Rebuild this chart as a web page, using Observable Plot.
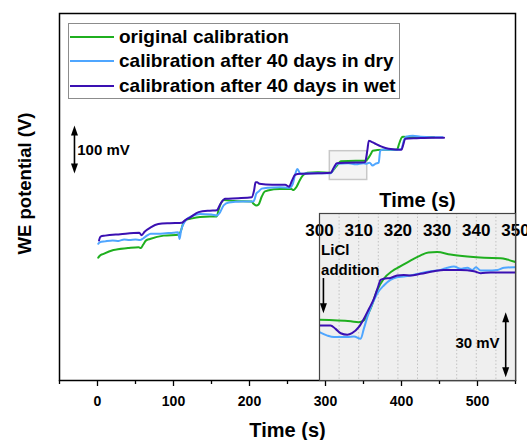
<!DOCTYPE html>
<html>
<head>
<meta charset="utf-8">
<script src="https://cdn.jsdelivr.net/npm/d3@7"></script>
<script src="https://cdn.jsdelivr.net/npm/@observablehq/plot@0.6"></script>
<style>
  html, body { margin: 0; padding: 0; background: white; }
  #wrap { position: relative; width: 527px; height: 440px; overflow: hidden; font-family: "Liberation Sans", Arial, sans-serif; font-weight: bold; }
  #wrap svg { position: absolute; }
  .legend { position: absolute; left: 68px; top: 23px; width: 330px; height: 74px; border: 1px solid #8c8c8c; background: white; }
  .row { position: absolute; left: 0; height: 24px; line-height: 24px; font-size: 19px; white-space: nowrap; color: #000; }
  .sw { position: absolute; left: 1px; top: 11px; width: 44px; height: 2px; }
  .lab { position: absolute; left: 50px; top: 0; }
</style>
</head>
<body>
<div id="wrap"></div>
<script>
// ---------- data ----------
const seriesNames = ["original calibration", "calibration after 40 days in dry", "calibration after 40 days in wet"];
const seriesColors = ["#1faf1f", "#4fa6ff", "#3a10b2"];

// main panel: time (s) and WE potential (V, arbitrary offset)
const tOriginal = [1, 3, 8, 21, 40, 54, 57, 60, 64, 69, 87, 107, 110, 113, 117, 122, 135, 148, 157, 159, 163, 166, 180, 203, 205, 209, 212, 216, 220, 224, 240, 255, 258, 262, 266, 270, 276, 290, 307, 311, 316, 320, 340, 353, 357, 360, 362, 375, 394, 397, 400, 402, 415, 430, 443];
const vOriginal = [0.256, 0.260, 0.264, 0.272, 0.276, 0.278, 0.276, 0.283, 0.292, 0.295, 0.302, 0.304, 0.313, 0.329, 0.335, 0.337, 0.341, 0.342, 0.342, 0.354, 0.371, 0.376, 0.374, 0.373, 0.369, 0.365, 0.367, 0.383, 0.394, 0.396, 0.399, 0.399, 0.397, 0.404, 0.417, 0.427, 0.433, 0.434, 0.433, 0.440, 0.450, 0.457, 0.458, 0.458, 0.465, 0.473, 0.479, 0.481, 0.481, 0.494, 0.506, 0.508, 0.507, 0.507, 0.507];

const tDry = [1, 3, 10, 20, 28, 35, 42, 50, 56, 60, 65, 70, 80, 90, 100, 106, 108, 110, 114, 118, 125, 135, 150, 157, 161, 166, 173, 190, 205, 207, 209, 212, 216, 225, 240, 253, 257, 260, 263, 267, 280, 307, 311, 316, 330, 340, 350, 354, 358, 362, 366, 370, 372, 375, 385, 395, 400, 403, 406, 415, 425, 440, 454];
const vDry = [0.285, 0.288, 0.290, 0.292, 0.291, 0.294, 0.293, 0.294, 0.293, 0.296, 0.302, 0.306, 0.306, 0.307, 0.308, 0.309, 0.295, 0.313, 0.329, 0.337, 0.343, 0.347, 0.346, 0.344, 0.350, 0.365, 0.371, 0.373, 0.373, 0.379, 0.390, 0.394, 0.400, 0.402, 0.403, 0.402, 0.410, 0.429, 0.441, 0.431, 0.432, 0.432, 0.442, 0.452, 0.453, 0.451, 0.453, 0.452, 0.454, 0.448, 0.452, 0.454, 0.479, 0.481, 0.481, 0.481, 0.483, 0.500, 0.508, 0.510, 0.508, 0.507, 0.507];

const tWet = [2, 4, 10, 30, 55, 58, 62, 70, 80, 95, 111, 116, 122, 133, 148, 157, 162, 168, 185, 203, 206, 208, 210, 213, 230, 247, 252, 256, 260, 267, 290, 307, 311, 315, 330, 352, 355, 357, 360, 365, 373, 383, 400, 402, 405, 420, 440, 456];
const vWet = [0.292, 0.300, 0.302, 0.305, 0.308, 0.303, 0.310, 0.319, 0.326, 0.328, 0.329, 0.335, 0.340, 0.351, 0.354, 0.355, 0.369, 0.379, 0.380, 0.382, 0.396, 0.413, 0.413, 0.410, 0.408, 0.408, 0.404, 0.417, 0.429, 0.431, 0.432, 0.433, 0.444, 0.453, 0.454, 0.455, 0.479, 0.500, 0.498, 0.494, 0.488, 0.483, 0.481, 0.490, 0.504, 0.505, 0.506, 0.506];

// inset: time (s) and relative potential (mV)
const tInsetOriginal = [300, 308, 310, 311.3, 313, 314.7, 316.4, 318.5, 320.6, 323.2, 325.7, 327.8, 330, 333.4, 337.7, 342, 346.2, 347.9, 350];
const mvInsetOriginal = [28.0, 27.3, 26.9, 27.7, 33.0, 41.5, 46.9, 50.4, 52.6, 55.3, 57.6, 59.0, 59.2, 58.1, 57.2, 56.6, 56.4, 55.8, 54.6];
const tInsetDry = [300, 302, 303.7, 307.1, 308.8, 310.5, 311.3, 312.2, 313.5, 314.7, 316.4, 318.1, 319.8, 321.5, 323.2, 325.8, 328.4, 330.9, 332.6, 334.3, 336, 337.7, 339, 339.9, 341.1, 342.8, 345.4, 347.1, 349.7, 350];
const mvInsetDry = [22.3, 20.7, 20.0, 20.0, 20.3, 19.2, 23.8, 29.2, 35.4, 40.0, 43.8, 46.4, 47.6, 47.9, 48.4, 49.5, 50.4, 51.0, 52.0, 52.6, 51.5, 52.0, 51.0, 52.2, 50.7, 50.7, 51.0, 52.0, 52.2, 52.2];
const tInsetWet = [300, 302.8, 304.1, 305.4, 307.1, 308.3, 310, 311.3, 312.6, 313.9, 314.9, 315.6, 316.4, 318.1, 319.8, 321.5, 323.2, 325.8, 329.2, 331.7, 336, 339.4, 341.1, 343.7, 349.7, 350];
const mvInsetWet = [25.4, 25.4, 23.8, 21.8, 21.1, 21.8, 24.6, 28.4, 33.0, 37.7, 43.0, 46.4, 46.9, 47.3, 48.4, 48.7, 48.4, 49.2, 50.4, 51.0, 51.0, 50.4, 49.5, 49.8, 49.8, 49.8];

// ticks
const mainTicks = [0, 100, 200, 300, 400, 500];
const mainMinorTicks = [-50, 50, 150, 250, 350, 450, 550];
const insetTicks = [300, 310, 320, 330, 340, 350];
const insetGrid = [305, 310, 315, 320, 325, 330, 335, 340, 345];

// annotations (data units)
const zoomBox = {t1: 305.7, t2: 354.9, v1: 0.418, v2: 0.478};
const scaleBarMain = {t: -30.3, v1: 0.4315, v2: 0.5315, label: "100 mV", tLabel: -26.7, vLabel: 0.4795};
const liclArrow = {t: 301, mv1: 47.0, mv2: 31.0};
const liclText = [{t: 300.4, mv: 59.9, text: "LiCl"}, {t: 300.4, mv: 50.7, text: "addition"}];
const scaleBarInset = {t: 347.5, mv1: 1.5, mv2: 31.5, label: "30 mV", tLabel: 340.3, mvLabel: 17.2};

// ---------- build ----------
const FONT = '"Liberation Sans", Arial, sans-serif';
const rows = (ts, vs) => ts.map((t, i) => ({t, v: vs[i]}));
const mainSeries = [rows(tOriginal, vOriginal), rows(tDry, vDry), rows(tWet, vWet)];
const insetSeries = [rows(tInsetOriginal, mvInsetOriginal), rows(tInsetDry, mvInsetDry), rows(tInsetWet, mvInsetWet)];

const headUp = {draw(ctx) { ctx.moveTo(0, 0); ctx.lineTo(3.5, 10); ctx.lineTo(-3.5, 10); ctx.closePath(); }};
const headDown = {draw(ctx) { ctx.moveTo(0, 0); ctx.lineTo(3.5, -10); ctx.lineTo(-3.5, -10); ctx.closePath(); }};

const main = Plot.plot({
  width: 527, height: 440,
  marginLeft: 59, marginRight: 12, marginTop: 13, marginBottom: 60,
  x: {domain: [-50, 550]},
  y: {domain: [0, 0.765], axis: null},
  style: {fontFamily: FONT, fontWeight: "bold", background: "white", overflow: "visible", color: "black"},
  marks: [
    Plot.rect([zoomBox], {x1: "t1", x2: "t2", y1: "v1", y2: "v2", fill: "#f4f4f4", stroke: "#c8c8c8", strokeWidth: 1.5}),
    ...mainSeries.map((d, i) => Plot.line(d, {x: "t", y: "v", stroke: seriesColors[i], strokeWidth: 2, curve: "monotone-x"})),
    Plot.ruleX([scaleBarMain], {x: "t", y1: d => d.v1 + 0.015, y2: d => d.v2 - 0.015, stroke: "black", strokeWidth: 1.6}),
    Plot.dot([scaleBarMain], {x: "t", y: "v2", symbol: headUp, fill: "black", stroke: "none"}),
    Plot.dot([scaleBarMain], {x: "t", y: "v1", symbol: headDown, fill: "black", stroke: "none"}),
    Plot.text([scaleBarMain], {x: "tLabel", y: "vLabel", text: "label", textAnchor: "start", fontSize: 15}),
    Plot.frame({stroke: "black", strokeWidth: 1.5}),
    Plot.axisX({ticks: mainTicks, tickSize: 6, tickPadding: 10, fontSize: 14, label: null, strokeWidth: 1.3}),
    Plot.axisX({ticks: mainMinorTicks, tickSize: 4, tickFormat: () => "", label: null, strokeWidth: 1.3}),
    Plot.text(["Time (s)"], {frameAnchor: "bottom", lineAnchor: "middle", dy: 50, fontSize: 20}),
    Plot.text(["WE potential (V)"], {frameAnchor: "left", lineAnchor: "middle", textAnchor: "middle", rotate: -90, dx: -34, dy: -13.5, fontSize: 18.5})
  ]
});
main.style.left = "0px";
main.style.top = "0px";

const inset = Plot.plot({
  width: 196, height: 167,
  marginLeft: 0, marginRight: 0, marginTop: 0, marginBottom: 0,
  x: {domain: [300, 350], axis: null},
  y: {domain: [0, 77], axis: null},
  style: {fontFamily: FONT, fontWeight: "bold", background: "transparent", overflow: "visible", color: "black"},
  marks: [
    Plot.frame({fill: "#efefef", stroke: "none"}),
    Plot.ruleX(insetGrid, {stroke: "#b8b8b8", strokeWidth: 0.8, strokeDasharray: "1.5,2"}),
    ...insetSeries.map((d, i) => Plot.line(d, {x: "t", y: "v", stroke: seriesColors[i], strokeWidth: 2, curve: "monotone-x", clip: true})),
    Plot.text(insetTicks, {x: d => d, frameAnchor: "top", lineAnchor: "middle", dy: 17, fontSize: 17, text: d => String(d)}),
    Plot.text(["Time (s)"], {frameAnchor: "top", lineAnchor: "middle", dy: -13, fontSize: 20}),
    Plot.text(liclText, {x: "t", y: "mv", text: "text", textAnchor: "start", fontSize: 15}),
    Plot.ruleX([liclArrow], {x: "t", y1: d => d.mv2 + 3, y2: "mv1", stroke: "black", strokeWidth: 1.6}),
    Plot.dot([liclArrow], {x: "t", y: "mv2", symbol: headDown, fill: "black", stroke: "none"}),
    Plot.ruleX([scaleBarInset], {x: "t", y1: d => d.mv1 + 3, y2: d => d.mv2 - 3, stroke: "black", strokeWidth: 1.6}),
    Plot.dot([scaleBarInset], {x: "t", y: "mv2", symbol: headUp, fill: "black", stroke: "none"}),
    Plot.dot([scaleBarInset], {x: "t", y: "mv1", symbol: headDown, fill: "black", stroke: "none"}),
    Plot.text([scaleBarInset], {x: "tLabel", y: "mvLabel", text: "label", fontSize: 15}),
    Plot.frame({stroke: "#444", strokeWidth: 1.2})
  ]
});
inset.style.left = "319px";
inset.style.top = "213px";

const wrap = document.getElementById("wrap");
wrap.appendChild(main);
wrap.appendChild(inset);

// legend
const legend = document.createElement("div");
legend.className = "legend";
const rowTops = [1, 25, 50];
seriesNames.forEach((name, i) => {
  const r = document.createElement("div");
  r.className = "row";
  r.style.top = rowTops[i] + "px";
  const sw = document.createElement("div");
  sw.className = "sw";
  sw.style.background = seriesColors[i];
  const lab = document.createElement("span");
  lab.className = "lab";
  lab.textContent = name;
  r.appendChild(sw);
  r.appendChild(lab);
  legend.appendChild(r);
});
wrap.appendChild(legend);
</script>
</body>
</html>
